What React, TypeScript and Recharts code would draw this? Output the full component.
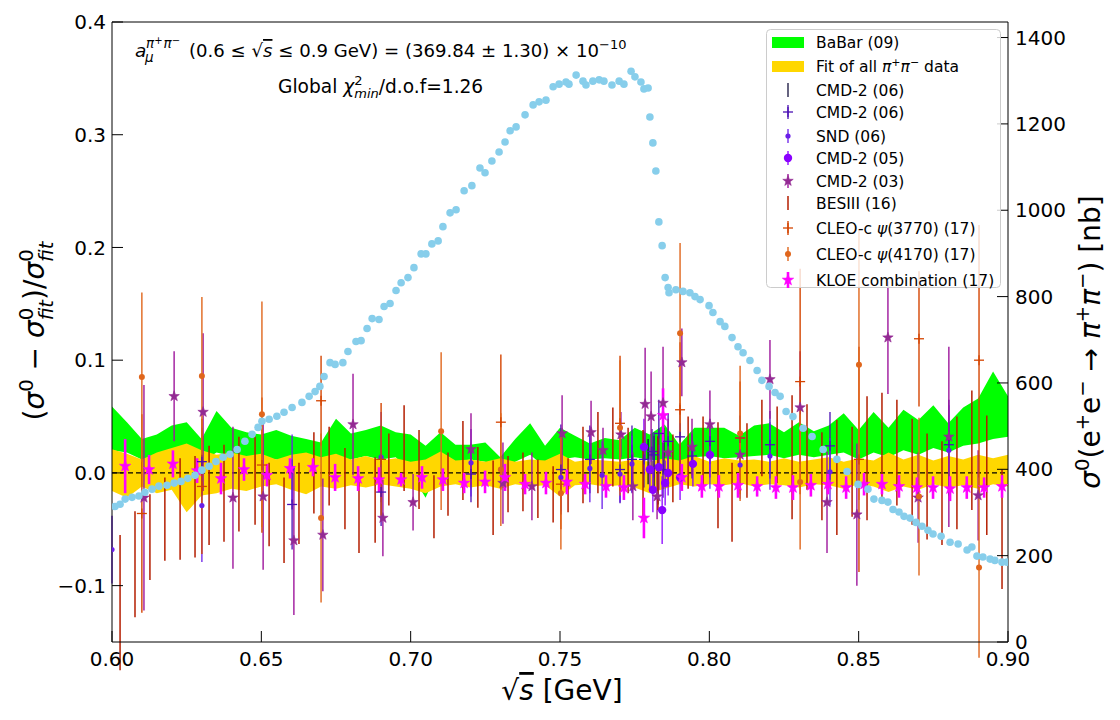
import { ComposedChart, Area, Scatter, XAxis, YAxis, ErrorBar, ReferenceLine } from "recharts"

// ---- bands (relative deviation), grid in GeV ----
const bandX = [
  0.6, 0.605, 0.61, 0.615, 0.62, 0.625, 0.63, 0.635, 0.64, 0.645,
  0.65, 0.655, 0.66, 0.665, 0.67, 0.675, 0.68, 0.685, 0.69, 0.695,
  0.7, 0.705, 0.71, 0.715, 0.72, 0.725, 0.73, 0.735, 0.74, 0.745,
  0.75, 0.755, 0.76, 0.765, 0.77, 0.775, 0.78, 0.785, 0.79, 0.795,
  0.8, 0.805, 0.81, 0.815, 0.82, 0.825, 0.83, 0.835, 0.84, 0.845,
  0.85, 0.855, 0.86, 0.865, 0.87, 0.875, 0.88, 0.885, 0.89, 0.895, 0.9,
]
const babarHi = [
  0.059, 0.045, 0.03, 0.034, 0.042, 0.045, 0.03, 0.055, 0.04, 0.036,
  0.034, 0.038, 0.033, 0.03, 0.027, 0.048, 0.035, 0.038, 0.042, 0.036,
  0.034, 0.024, 0.036, 0.025, 0.025, 0.027, 0.014, 0.03, 0.044, 0.024,
  0.04, 0.033, 0.026, 0.031, 0.029, 0.04, 0.034, 0.043, 0.025, 0.04,
  0.04, 0.04, 0.033, 0.042, 0.044, 0.036, 0.045, 0.037, 0.042, 0.053,
  0.038, 0.054, 0.04, 0.056, 0.047, 0.06, 0.044, 0.058, 0.066, 0.09, 0.068,
]
const babarLo = [
  0.02, 0.018, 0.012, 0.016, 0.02, 0.015, 0.01, 0.018, 0.015, 0.012,
  0.014, 0.012, 0.01, 0.006, -0.005, 0.004, 0.012, 0.015, 0.012, 0.014,
  0.0, -0.022, 0.008, 0.01, 0.012, 0.01, 0.004, 0.01, 0.016, 0.005,
  0.012, 0.014, 0.012, 0.013, 0.012, 0.014, 0.012, 0.01, 0.006, 0.014,
  0.015, 0.013, 0.014, 0.015, 0.016, 0.013, 0.016, 0.014, 0.016, 0.018,
  0.012, 0.018, 0.014, 0.02, 0.016, 0.022, 0.018, 0.024, 0.026, 0.03, 0.032,
]
const fitHi = [
  0.021, 0.017, 0.012, 0.018, 0.022, 0.026, 0.02, 0.016, 0.018, 0.015,
  0.017, 0.012, 0.016, 0.018, 0.014, 0.017, 0.012, 0.015, 0.011, 0.013,
  0.01, 0.012, 0.019, 0.011, 0.012, 0.01, 0.013, 0.01, 0.012, 0.011,
  0.017, 0.01, 0.012, 0.011, 0.01, 0.012, 0.01, 0.013, 0.011, 0.015,
  0.01, 0.013, 0.011, 0.012, 0.01, 0.013, 0.01, 0.012, 0.014, 0.01,
  0.013, 0.011, 0.018, 0.012, 0.016, 0.011, 0.015, 0.012, 0.016, 0.013, 0.016,
]
const fitLo = [
  -0.016, -0.022, -0.012, -0.018, -0.015, -0.035, -0.02, -0.018, -0.014, -0.016,
  -0.012, -0.01, -0.015, -0.019, -0.012, -0.014, -0.011, -0.013, -0.01, -0.012,
  -0.014, -0.018, -0.012, -0.01, -0.013, -0.011, -0.014, -0.01, -0.012, -0.011,
  -0.021, -0.011, -0.01, -0.012, -0.011, -0.013, -0.018, -0.014, -0.01, -0.012,
  -0.01, -0.011, -0.009, -0.012, -0.01, -0.011, -0.013, -0.01, -0.011, -0.014,
  -0.01, -0.012, -0.017, -0.012, -0.015, -0.01, -0.013, -0.011, -0.014, -0.01, -0.012,
]

// ---- cross section (right axis, nb) ----
const xsX = [
  0.601, 0.6027, 0.6044, 0.6067, 0.609, 0.611, 0.6134, 0.6157, 0.6184, 0.6208,
  0.6231, 0.6254, 0.6278, 0.6301, 0.6325, 0.6348, 0.6372, 0.6395, 0.6419, 0.6445,
  0.6469, 0.6489, 0.6502, 0.6526, 0.6552, 0.6576, 0.6603, 0.6636, 0.666, 0.668,
  0.6696, 0.671, 0.673, 0.6747, 0.6773, 0.679, 0.6817, 0.6834, 0.6854, 0.6871,
  0.6894, 0.6911, 0.6931, 0.6951, 0.6968, 0.6991, 0.7011, 0.7035, 0.7051, 0.7071,
  0.7092, 0.7108, 0.7132, 0.7152, 0.7179, 0.7205, 0.7232, 0.7249, 0.7272, 0.7296,
  0.7316, 0.7333, 0.7353, 0.7383, 0.741, 0.743, 0.7453, 0.7477, 0.7497, 0.752,
  0.753, 0.7554, 0.7577, 0.7587, 0.761, 0.7631, 0.7647, 0.7674, 0.7698, 0.7714,
  0.7738, 0.7751, 0.7771, 0.7781, 0.7795, 0.7801, 0.7811, 0.7821, 0.7831, 0.7842,
  0.7852, 0.7862, 0.7865, 0.7888, 0.7912, 0.7935, 0.7952, 0.7969, 0.7999, 0.8012,
  0.8036, 0.8052, 0.8076, 0.8096, 0.8113, 0.8136, 0.816, 0.8176, 0.82, 0.822,
  0.8237, 0.8257, 0.828, 0.8314, 0.8344, 0.8381, 0.8427, 0.8461, 0.8498, 0.8531,
  0.8551, 0.8578, 0.8598, 0.8615, 0.8635, 0.8652, 0.8672, 0.8692, 0.8712, 0.8732,
  0.8749, 0.8776, 0.8806, 0.8833, 0.8863, 0.8879, 0.8896, 0.8916, 0.894, 0.8956,
  0.898, 0.8997,
]
const xsNb = [
  314, 319, 331, 335, 338, 347, 354, 361, 363, 368,
  372, 379, 386, 398, 407, 418, 428, 435, 446, 465,
  481, 497, 511, 516, 523, 532, 543, 555, 569, 580,
  592, 615, 647, 643, 647, 673, 696, 698, 726, 749,
  747, 777, 784, 814, 832, 844, 867, 899, 899, 922,
  929, 962, 994, 1001, 1045, 1057, 1098, 1087, 1114, 1135,
  1158, 1184, 1193, 1221, 1244, 1251, 1255, 1286, 1292, 1297,
  1292, 1313, 1299, 1290, 1299, 1302, 1299, 1290, 1299, 1292,
  1322, 1309, 1297, 1281, 1283, 1216, 1156, 1091, 973, 918,
  844, 821, 809, 816, 812, 809, 800, 793, 779, 763,
  742, 731, 705, 684, 670, 652, 629, 606, 592, 578,
  569, 534, 522, 495, 476, 446, 423, 395, 365, 354,
  331, 328, 324, 307, 301, 291, 287, 277, 268, 259,
  250, 245, 231, 227, 213, 220, 199, 197, 192, 189,
  185, 185,
]

// ---- measurements: x, deviation, error ----
const cmd06aX = [0.7741, 0.7795, 0.7815, 0.7828, 0.7848]
const cmd06aY = [0.005, 0.01, 0.008, 0.002, 0.02]
const cmd06aE = [0.02, 0.02, 0.025, 0.03, 0.02]

const cmd06bX = [0.6301, 0.6603, 0.6901, 0.7202, 0.7503, 0.76, 0.7701, 0.7741, 0.7781, 0.7808, 0.7815, 0.7831, 0.7845, 0.7862, 0.7902, 0.7942, 0.8002, 0.8103, 0.8203, 0.8404, 0.8802]
const cmd06bY = [0.01, -0.028, -0.017, -0.001, 0.003, 0.012, 0.003, 0.012, 0.012, 0.019, 0.016, 0.035, 0.003, 0.028, 0.032, 0.015, 0.028, 0.031, 0.025, 0.024, 0.025]
const cmd06bE = [0.03, 0.04, 0.03, 0.025, 0.04, 0.03, 0.03, 0.03, 0.025, 0.02, 0.02, 0.03, 0.025, 0.025, 0.03, 0.02, 0.02, 0.02, 0.03, 0.03, 0.04]

const sndX = [0.6, 0.6301, 0.6603, 0.6901, 0.7202, 0.7503, 0.76, 0.7641, 0.7701, 0.7741, 0.8002, 0.8103, 0.8203, 0.8404, 0.8802]
const sndY = [-0.068, -0.029, 0.004, 0.014, 0.009, -0.004, 0.004, -0.002, -0.001, 0.008, 0.016, 0.007, 0.015, 0.001, 0.02]
const sndE = [0.03, 0.05, 0.03, 0.04, 0.03, 0.03, 0.03, 0.03, 0.025, 0.025, 0.03, 0.03, 0.03, 0.03, 0.04]

const cmd05X = [0.7781, 0.7801, 0.7811, 0.7831, 0.7842, 0.7852, 0.7862, 0.7902, 0.7945, 0.8002]
const cmd05Y = [0.023, 0.003, -0.015, 0.005, -0.033, -0.009, 0.0, -0.004, 0.008, 0.016]
const cmd05E = [0.025, 0.02, 0.02, 0.02, 0.03, 0.02, 0.02, 0.02, 0.02, 0.02]

const cmd03X = [
  0.6107, 0.6208, 0.6305, 0.6405, 0.6506, 0.6609, 0.6706, 0.6807, 0.6907, 0.7008,
  0.7202, 0.7309, 0.7406, 0.7507, 0.7604, 0.7644, 0.7704, 0.7744, 0.7785, 0.7805,
  0.7825, 0.7845, 0.7862, 0.7908, 0.7942, 0.8002, 0.8103, 0.8203, 0.8304, 0.8394,
  0.8494, 0.8598, 0.8699, 0.8802, 0.89,
]
const cmd03Y = [
  -0.022, 0.068, 0.054, -0.022, -0.021, -0.06, -0.055, 0.043, -0.04, -0.026,
  0.021, -0.009, -0.012, 0.035, 0.036, 0.02, 0.034, -0.012, 0.061, 0.05,
  -0.021, 0.062, 0.018, 0.098, 0.023, 0.043, 0.016, 0.083, 0.058, -0.026,
  -0.037, 0.12, -0.022, 0.032, -0.02,
]
const cmd03E = [
  0.1, 0.04, 0.07, 0.063, 0.065, 0.066, 0.05, 0.045, 0.034, 0.025,
  0.032, 0.036, 0.03, 0.034, 0.028, 0.02, 0.02, 0.03, 0.05, 0.04,
  0.02, 0.05, 0.03, 0.03, 0.025, 0.03, 0.02, 0.035, 0.05, 0.045,
  0.063, 0.05, 0.04, 0.08, 0.04,
]

const besX = [
  0.6027, 0.6077, 0.6127, 0.6177, 0.6228, 0.6278, 0.6325, 0.6375, 0.6425, 0.6479,
  0.6526, 0.6576, 0.6626, 0.6676, 0.6727, 0.678, 0.6827, 0.6881, 0.6927, 0.6978,
  0.7028, 0.7078, 0.7125, 0.7175, 0.7225, 0.7276, 0.7326, 0.7376, 0.7426, 0.7477,
  0.7527, 0.7577, 0.7627, 0.7677, 0.7728, 0.7778, 0.7828, 0.7878, 0.7929, 0.7979,
  0.8029, 0.8076, 0.8126, 0.8176, 0.8227, 0.8277, 0.8327, 0.8377, 0.8427, 0.8478,
  0.8528, 0.8578, 0.8628, 0.8679, 0.8729, 0.8779, 0.8829, 0.8879, 0.8929, 0.898,
]
const besY = [
  -0.115, -0.081, -0.057, -0.041, -0.032, -0.03, -0.02, -0.018, -0.01, -0.007,
  -0.028, -0.042, -0.027, 0.0, 0.006, -0.014, -0.037, -0.024, 0.003, 0.022,
  0.003, -0.03, -0.01, 0.011, -0.004, -0.022, -0.01, -0.008, -0.014, -0.019,
  -0.011, 0.007, 0.018, 0.023, 0.011, -0.002, 0.0, 0.004, 0.018, 0.018,
  -0.002, -0.026, 0.011, 0.031, 0.025, 0.014, 0.023, -0.003, -0.004, 0.001,
  0.013, 0.024, 0.018, 0.001, -0.012, -0.018, 0.0, 0.02, -0.002, -0.05,
]
const besE = [
  0.06, 0.047, 0.038, 0.037, 0.045, 0.045, 0.044, 0.043, 0.042, 0.039,
  0.037, 0.038, 0.036, 0.036, 0.035, 0.036, 0.034, 0.038, 0.032, 0.038,
  0.035, 0.028, 0.028, 0.035, 0.027, 0.033, 0.025, 0.026, 0.026, 0.025,
  0.024, 0.034, 0.036, 0.035, 0.029, 0.04, 0.033, 0.03, 0.032, 0.032,
  0.047, 0.035, 0.033, 0.034, 0.034, 0.055, 0.038, 0.039, 0.051, 0.04,
  0.055, 0.047, 0.047, 0.047, 0.047, 0.046, 0.05, 0.053, 0.053, 0.053,
]

const cleo3770X = [0.61, 0.6301, 0.6502, 0.67, 0.6901, 0.7302, 0.7503, 0.7701, 0.7902, 0.8103, 0.8304, 0.8501, 0.8702, 0.8903]
const cleo3770Y = [-0.036, -0.012, 0.007, 0.064, 0.012, 0.045, -0.01, 0.044, 0.056, 0.031, 0.081, 0.012, 0.119, 0.1]
const cleo3770E = [0.088, 0.06, 0.06, 0.04, 0.05, 0.06, 0.04, 0.06, 0.06, 0.05, 0.1, 0.1, 0.06, 0.12]

const cleo4170X = [0.61, 0.6301, 0.6502, 0.67, 0.7102, 0.7302, 0.7503, 0.7701, 0.7902, 0.8103, 0.8304, 0.8501, 0.8702, 0.8903]
const cleo4170Y = [0.085, 0.086, 0.052, -0.04, 0.037, 0.003, -0.018, 0.04, 0.124, 0.035, -0.008, 0.096, -0.021, -0.084]
const cleo4170E = [0.075, 0.07, 0.1, 0.075, 0.07, 0.05, 0.05, 0.06, 0.08, 0.06, 0.06, 0.12, 0.07, 0.08]

const kloeX = [
  0.6044, 0.6124, 0.6204, 0.6285, 0.6365, 0.6442, 0.6519, 0.6596, 0.6673, 0.6747,
  0.6824, 0.6894, 0.6968, 0.7038, 0.7108, 0.7179, 0.7249, 0.7316, 0.7383, 0.7453,
  0.7523, 0.7584, 0.7654, 0.7714, 0.7781, 0.7845, 0.7908, 0.7975, 0.8032, 0.8096,
  0.816, 0.8223, 0.828, 0.834, 0.8397, 0.8458, 0.8518, 0.8578, 0.8635, 0.8695,
  0.8749, 0.8806, 0.8862, 0.892, 0.898,
]
const kloeY = [
  0.006, 0.003, 0.008, 0.002, -0.005, 0.003, -0.002, 0.004, 0.005, -0.004,
  -0.005, -0.006, -0.006, -0.004, -0.006, -0.009, -0.008, -0.004, -0.01, -0.009,
  -0.008, -0.01, -0.012, -0.013, -0.04, 0.051, -0.004, -0.012, -0.012, -0.011,
  -0.012, -0.013, -0.013, -0.011, -0.01, -0.013, -0.01, -0.01, -0.012, -0.013,
  -0.013, -0.014, -0.013, -0.013, -0.012,
]
const kloeE = [
  0.024, 0.013, 0.012, 0.011, 0.014, 0.01, 0.01, 0.009, 0.008, 0.012,
  0.011, 0.011, 0.006, 0.01, 0.01, 0.009, 0.01, 0.012, 0.009, 0.01,
  0.011, 0.009, 0.01, 0.011, 0.018, 0.024, 0.012, 0.01, 0.01, 0.011,
  0.009, 0.01, 0.011, 0.01, 0.009, 0.01, 0.01, 0.009, 0.01, 0.009,
  0.01, 0.011, 0.01, 0.009, 0.01,
]

const xTicks = [0.6, 0.65, 0.7, 0.75, 0.8, 0.85, 0.9]
const leftTicks = [-0.1, 0.0, 0.1, 0.2, 0.3, 0.4]
const rightTicks = [0, 200, 400, 600, 800, 1000, 1200, 1400]

const FONT = "DejaVu Sans"

const bands = bandX.map((x, i) => ({
  x,
  babar: [babarLo[i], babarHi[i]],
  fit: [fitLo[i], fitHi[i]],
}))
const xsPoints = xsX.map((x, i) => ({ x, y: xsNb[i] }))
const pts = (xs: number[], ys: number[], es: number[]) => xs.map((x, i) => ({ x, y: ys[i], e: es[i] }))

function starPath(cx: number, cy: number, r: number) {
  let d = ""
  for (let i = 0; i < 10; i++) {
    const a = -Math.PI / 2 + (i * Math.PI) / 5
    const rr = i % 2 ? r * 0.4 : r
    d += (i ? "L" : "M") + (cx + rr * Math.cos(a)).toFixed(2) + "," + (cy + rr * Math.sin(a)).toFixed(2)
  }
  return d + "Z"
}

const noMark = () => <g />
const plusMark = (c: string, s: number) => (p: any) => (
  <g>
    <line x1={p.cx - s} x2={p.cx + s} y1={p.cy} y2={p.cy} stroke={c} strokeWidth={1.3} />
    <line x1={p.cx} x2={p.cx} y1={p.cy - s} y2={p.cy + s} stroke={c} strokeWidth={1.3} />
  </g>
)
const dotMark = (c: string, r: number) => (p: any) => <circle cx={p.cx} cy={p.cy} r={r} fill={c} />
const starMark = (c: string, r: number) => (p: any) => <path d={starPath(p.cx, p.cy, r)} fill={c} stroke={c} strokeWidth={0.6} />

const series = [
  { name: "CMD-2 (06)", data: pts(cmd06aX, cmd06aY, cmd06aE), color: "#14103c", w: 1.3, mark: noMark },
  { name: "CMD-2 (06)", data: pts(cmd06bX, cmd06bY, cmd06bE), color: "#4b10b4", w: 1.3, mark: plusMark("#4b10b4", 5) },
  { name: "SND (06)", data: pts(sndX, sndY, sndE), color: "#6a1ee8", w: 1.3, mark: dotMark("#6a1ee8", 2.6) },
  { name: "CMD-2 (05)", data: pts(cmd05X, cmd05Y, cmd05E), color: "#8a00ff", w: 1.3, mark: dotMark("#8a00ff", 4.2) },
  { name: "CMD-2 (03)", data: pts(cmd03X, cmd03Y, cmd03E), color: "#9e169c", w: 1.4, mark: starMark("#932a93", 5.5) },
  { name: "BESIII (16)", data: pts(besX, besY, besE), color: "#b41e00", w: 1.5, mark: noMark },
  { name: "CLEO-c ψ(3770) (17)", data: pts(cleo3770X, cleo3770Y, cleo3770E), color: "#d44400", w: 1.4, mark: plusMark("#d44400", 5) },
  { name: "CLEO-c ψ(4170) (17)", data: pts(cleo4170X, cleo4170Y, cleo4170E), color: "#e0661c", w: 1.4, mark: dotMark("#e0661c", 3) },
  { name: "KLOE combination (17)", data: pts(kloeX, kloeY, kloeE), color: "#ff00ff", w: 2.6, mark: starMark("#ff00ff", 6) },
]

const fmtMinus = (v: number, d: number) => v.toFixed(d).replace("-", "\u2212")

function Overlay() {
  const legY = [42, 66, 90, 112, 136, 158, 181, 203, 228, 254, 280]
  const hx = 788
  return (
    <svg width={1120} height={720} style={{ position: "absolute", left: 0, top: 0, pointerEvents: "none" }} fontFamily={FONT}>
      {/* annotation */}
      <text x={135} y={57} fontSize={18.5} fontStyle="italic">a</text>
      <text x={146} y={48} fontSize={13.5}>
        <tspan fontStyle="italic">π</tspan>
        <tspan dy={-4} fontSize={10}>+</tspan>
        <tspan dy={4} dx={1} fontStyle="italic">π</tspan>
        <tspan dy={-4} fontSize={10}>−</tspan>
      </text>
      <text x={145} y={62} fontSize={13.5} fontStyle="italic">μ</text>
      <text x={189} y={57} fontSize={18.1}>
        (0.6 ≤ √<tspan fontStyle="italic" style={{ textDecoration: "overline" }}>s</tspan> ≤ 0.9 GeV) = (369.84 ± 1.30) × 10
        <tspan dy={-8} fontSize={13}>−10</tspan>
      </text>
      <text x={278} y={93} fontSize={18.6}>
        Global <tspan fontStyle="italic">χ</tspan>
        <tspan dy={-8} fontSize={13}>2</tspan>
        <tspan dx={-8.3} dy={13} fontSize={13} fontStyle="italic">min</tspan>
        <tspan dy={-5}>/d.o.f=1.26</tspan>
      </text>

      {/* axis titles */}
      <text x={562} y={700} fontSize={28} textAnchor="middle">
        √<tspan fontStyle="italic" style={{ textDecoration: "overline" }}>s</tspan> [GeV]
      </text>
      <text transform="translate(44,331) rotate(-90)" fontSize={28} textAnchor="middle">
        (<tspan fontStyle="italic">σ</tspan>
        <tspan dy={-11} fontSize={19.6}>0</tspan>
        <tspan dy={11}> − </tspan>
        <tspan fontStyle="italic">σ</tspan>
        <tspan dy={-11} fontSize={19.6}>0</tspan>
        <tspan dx={-12.5} dy={20} fontSize={19.6} fontStyle="italic">fit</tspan>
        <tspan dy={-9}>)/</tspan>
        <tspan fontStyle="italic">σ</tspan>
        <tspan dy={-11} fontSize={19.6}>0</tspan>
        <tspan dx={-12.5} dy={20} fontSize={19.6} fontStyle="italic">fit</tspan>
      </text>
      <text transform="translate(1100,342) rotate(-90)" fontSize={28} textAnchor="middle">
        <tspan fontStyle="italic">σ</tspan>
        <tspan dy={-11} fontSize={19.6}>0</tspan>
        <tspan dy={11}>(e</tspan>
        <tspan dy={-11} fontSize={19.6}>+</tspan>
        <tspan dy={11}>e</tspan>
        <tspan dy={-11} fontSize={19.6}>−</tspan>
        <tspan dy={11}> → </tspan>
        <tspan fontStyle="italic">π</tspan>
        <tspan dy={-11} fontSize={19.6}>+</tspan>
        <tspan dy={11} fontStyle="italic">π</tspan>
        <tspan dy={-11} fontSize={19.6}>−</tspan>
        <tspan dy={11}>) [nb]</tspan>
      </text>

      {/* legend */}
      <rect x={766.5} y={29.5} width={234} height={258} rx={4} fill="#fff" fillOpacity={0.8} stroke="#cccccc" />
      <rect x={772} y={37} width={32} height={11} fill="#00ff00" />
      <text x={816} y={legY[0] + 5.5} fontSize={15.5}>BaBar (09)</text>
      <rect x={772} y={61} width={32} height={11} fill="#ffd700" />
      <text x={816} y={legY[1] + 5.5} fontSize={15.5}>
        Fit of all <tspan fontStyle="italic">π</tspan>
        <tspan dy={-6} fontSize={11}>+</tspan>
        <tspan dy={6} fontStyle="italic">π</tspan>
        <tspan dy={-6} fontSize={11}>−</tspan>
        <tspan dy={6}> data</tspan>
      </text>
      {series.map((s, i) => {
        const cy = legY[i + 2]
        const h = s.w > 2 ? 8 : 7
        return (
          <g key={i}>
            <line x1={hx} x2={hx} y1={cy - h} y2={cy + h} stroke={s.color} strokeWidth={s.w} />
            {s.mark({ cx: hx, cy })}
            <text x={816} y={cy + 5.5} fontSize={15.5}>
              {s.name.includes("ψ") ? (
                <>
                  {s.name.split("ψ")[0]}
                  <tspan fontStyle="italic">ψ</tspan>
                  {s.name.split("ψ")[1]}
                </>
              ) : (
                s.name
              )}
            </text>
          </g>
        )
      })}
    </svg>
  )
}

export default function App() {
  const tick = { fill: "#000", fontSize: 20, fontFamily: FONT }
  return (
    <div style={{ position: "absolute", left: 0, top: 0, width: 1120, height: 720, background: "#fff" }}>
      <ComposedChart width={1120} height={720} data={bands} margin={{ top: 21, right: 52, bottom: 38, left: 52 }}>
        <XAxis
          xAxisId="b"
          dataKey="x"
          type="number"
          domain={[0.6, 0.9]}
          allowDataOverflow
          ticks={xTicks}
          interval={0}
          tickFormatter={(v: number) => v.toFixed(2)}
          tick={tick}
          tickSize={-11}
          tickMargin={21}
          height={40}
          stroke="#000"
        />
        <XAxis
          xAxisId="t"
          orientation="top"
          dataKey="x"
          type="number"
          domain={[0.6, 0.9]}
          allowDataOverflow
          ticks={xTicks}
          interval={0}
          tick={false}
          tickSize={-11}
          height={1}
          stroke="#000"
        />
        <YAxis
          yAxisId="l"
          type="number"
          domain={[-0.15, 0.4]}
          allowDataOverflow
          ticks={leftTicks}
          interval={0}
          tickFormatter={(v: number) => fmtMinus(v, 1)}
          tick={tick}
          tickSize={-11}
          tickMargin={17}
          width={60}
          stroke="#000"
        />
        <YAxis
          yAxisId="r"
          orientation="right"
          type="number"
          domain={[0, 1436]}
          allowDataOverflow
          ticks={rightTicks}
          interval={0}
          tick={tick}
          tickSize={-11}
          tickMargin={18}
          width={60}
          stroke="#000"
        />
        <Area
          xAxisId="b"
          yAxisId="l"
          type="linear"
          dataKey="babar"
          stroke="none"
          fill="#00ff00"
          fillOpacity={1}
          dot={false}
          activeDot={false}
          isAnimationActive={false}
        />
        <Area
          xAxisId="b"
          yAxisId="l"
          type="linear"
          dataKey="fit"
          stroke="none"
          fill="#ffd700"
          fillOpacity={1}
          dot={false}
          activeDot={false}
          isAnimationActive={false}
        />
        <ReferenceLine xAxisId="b" yAxisId="l" y={0} stroke="#000" strokeDasharray="5 3" strokeWidth={1.2} />
        {series.map((s, i) => (
          <Scatter
            key={i}
            xAxisId="b"
            yAxisId="l"
            data={s.data}
            dataKey="y"
            shape={s.mark}
            isAnimationActive={false}
          >
            <ErrorBar dataKey="e" direction="y" width={0} stroke={s.color} strokeWidth={s.w} isAnimationActive={false} />
          </Scatter>
        ))}
        <Scatter
          xAxisId="b"
          yAxisId="r"
          data={xsPoints}
          dataKey="y"
          shape={dotMark("#87ceeb", 3.8)}
          isAnimationActive={false}
        />
      </ComposedChart>
      <Overlay />
    </div>
  )
}
